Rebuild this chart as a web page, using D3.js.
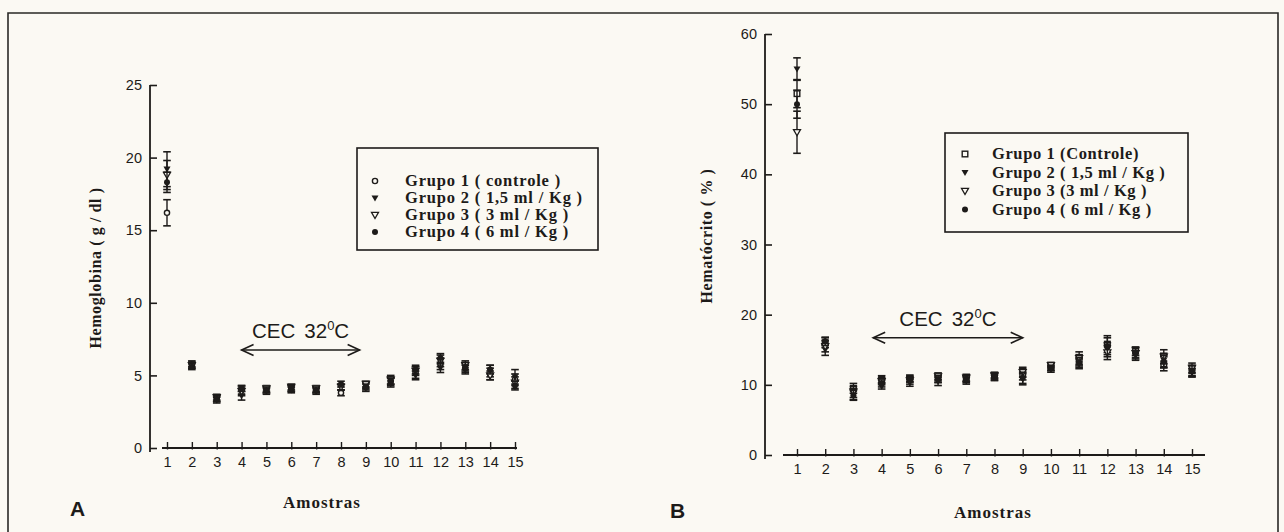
<!DOCTYPE html>
<html><head><meta charset="utf-8">
<script src="https://cdn.jsdelivr.net/npm/d3@7"></script>
<style>
html,body{margin:0;padding:0;background:#fbf9f3;}
svg{display:block;}
</style></head>
<body><svg id="c" width="1284" height="532"></svg>
<script>
// ---------- data ----------
const samples = [1,2,3,4,5,6,7,8,9,10,11,12,13,14,15];
const groupLabelsA = ["Grupo 1 ( controle )","Grupo 2 ( 1,5  ml / Kg )","Grupo 3 ( 3 ml / Kg )","Grupo 4 ( 6 ml / Kg )"];
const groupLabelsB = ["Grupo 1 (Controle)","Grupo 2 ( 1,5 ml / Kg )","Grupo 3 (3 ml / Kg )","Grupo 4 ( 6 ml / Kg )"];
const yTicksA = [0,5,10,15,20,25];
const yTicksB = [0,10,20,30,40,50,60];

// Hemoglobina (g/dl)
const hbG1 = [16.2,5.7,3.4,4.0,4.0,4.1,4.0,3.8,4.2,4.6,5.2,5.8,5.5,5.1,4.7];
const hbG1Err = [0.9,0.2,0.2,0.3,0.2,0.2,0.2,0.2,0.3,0.3,0.4,0.4,0.3,0.4,0.4];
const hbG2 = [19.2,5.8,3.3,3.6,3.9,4.0,3.9,4.2,4.3,4.5,5.0,5.5,5.4,5.3,4.9];
const hbG2Err = [1.2,0.2,0.2,0.3,0.2,0.2,0.2,0.2,0.2,0.3,0.3,0.3,0.3,0.4,0.5];
const hbG3 = [18.8,5.7,3.5,3.9,4.1,4.2,4.1,4.2,4.4,4.7,5.3,6.0,5.7,5.0,4.5];
const hbG3Err = [1.0,0.2,0.2,0.3,0.2,0.2,0.2,0.2,0.2,0.3,0.3,0.4,0.3,0.3,0.4];
const hbG4 = [18.3,5.6,3.4,4.1,4.0,4.1,4.0,4.4,4.2,4.6,5.4,6.2,5.6,5.4,4.3];
const hbG4Err = [0.7,0.2,0.2,0.2,0.2,0.2,0.2,0.2,0.2,0.2,0.3,0.3,0.3,0.3,0.3];

// Hematócrito (%)
const htG1 = [51.5,16.0,9.5,10.8,10.9,11.0,10.8,11.2,11.5,12.6,13.5,15.8,14.8,13.0,12.0];
const htG1Err = [2.0,0.7,0.7,0.5,0.5,0.6,0.5,0.5,0.8,0.5,0.8,1.2,0.6,1.0,0.8];
const htG2 = [55.0,15.0,8.7,9.8,10.3,10.5,10.6,11.0,10.8,12.2,13.0,15.0,14.2,13.5,11.7];
const htG2Err = [1.6,0.8,0.8,0.4,0.5,0.6,0.5,0.4,0.8,0.4,0.7,1.0,0.7,1.0,0.6];
const htG3 = [46.0,15.5,9.0,10.5,10.6,11.2,11.0,11.3,11.8,12.8,13.8,14.6,14.5,14.0,12.4];
const htG3Err = [3.0,0.8,0.8,0.5,0.5,0.5,0.5,0.4,0.7,0.4,0.9,1.0,0.8,1.0,0.7];
const htG4 = [50.0,16.2,8.5,10.2,10.8,10.8,10.9,11.4,11.0,12.4,13.2,15.5,14.6,13.3,12.0];
const htG4Err = [2.0,0.6,0.7,0.5,0.4,0.5,0.4,0.4,0.8,0.4,0.7,1.2,0.7,0.9,0.7];

const cecRange = [4, 8.75];
const cecRangeB = [3.7, 9.0];

// ---------- drawing ----------
const ink = "#1d1b19";
const bg = "#fbf9f3";
const svg = d3.select("#c");
svg.append("rect").attr("width",1284).attr("height",532).attr("fill",bg);

// outer frame of scanned figure
svg.append("path").attr("d","M8,540 L8,13 L1278,13 L1278,540")
  .attr("fill","none").attr("stroke","#2a2826").attr("stroke-width",1.6);

const serif = "'Liberation Serif','DejaVu Serif',serif";
const sans = "'Liberation Sans','DejaVu Sans',Arial,sans-serif";

function drawMarker(g, shape, cx, cy){
  if(shape==="circleOpen"){
    g.append("circle").attr("cx",cx).attr("cy",cy).attr("r",2.6).attr("fill",bg).attr("stroke",ink).attr("stroke-width",1.4);
  } else if(shape==="squareOpen"){
    g.append("rect").attr("x",cx-2.8).attr("y",cy-2.8).attr("width",5.6).attr("height",5.6).attr("fill",bg).attr("stroke",ink).attr("stroke-width",1.4);
  } else if(shape==="triFilled"){
    g.append("path").attr("d",`M${cx-3.5},${cy-2.6} L${cx+3.5},${cy-2.6} L${cx},${cy+3.5} Z`).attr("fill",ink);
  } else if(shape==="triOpen"){
    g.append("path").attr("d",`M${cx-3.5},${cy-2.6} L${cx+3.5},${cy-2.6} L${cx},${cy+3.5} Z`).attr("fill",bg).attr("stroke",ink).attr("stroke-width",1.3);
  } else if(shape==="circleFilled"){
    g.append("circle").attr("cx",cx).attr("cy",cy).attr("r",3).attr("fill",ink);
  }
}

function panel(cfg){
  const g = svg.append("g");
  const x = d3.scaleLinear().domain([1,15]).range(cfg.xRange);
  const y = d3.scaleLinear().domain(cfg.yDomain).range(cfg.yRange);

  // y axis
  const ya = g.append("g").attr("transform",`translate(${cfg.yAxisX},0)`)
    .call(d3.axisLeft(y).tickValues(cfg.yTicks).tickSizeInner(-7).tickSizeOuter(0).tickPadding(8));
  ya.select(".domain").attr("stroke",ink).attr("stroke-width",1.8)
    .attr("d",`M0,${y(cfg.yDomain[1])}V${y(0)+4}`);
  ya.selectAll(".tick line").attr("stroke",ink).attr("stroke-width",1.6);
  ya.selectAll(".tick text").attr("fill",ink).attr("font-family",sans).attr("font-size",14.5);

  // x axis
  const xa = g.append("g").attr("transform",`translate(0,${y(0)})`)
    .call(d3.axisBottom(x).tickValues(samples).tickSizeInner(-6).tickSizeOuter(0).tickPadding(9).tickFormat(d3.format("d")));
  xa.select(".domain").attr("stroke",ink).attr("stroke-width",1.8)
    .attr("d",`M${x(1)-cfg.xPadL},0H${x(15)+cfg.xPadR}`);
  xa.selectAll(".tick line").attr("stroke",ink).attr("stroke-width",1.4).attr("y2",-6).attr("y1",1.5);
  xa.selectAll(".tick text").attr("fill",ink).attr("font-family",sans).attr("font-size",14.5);

  // data: error bars + markers
  cfg.series.forEach((s)=>{
    const sg = g.append("g");
    samples.forEach((d,i)=>{
      const cx = x(d), v = s.values[i], e = s.err[i];
      const y1 = y(v+e), y2 = y(v-e);
      sg.append("line").attr("x1",cx).attr("x2",cx).attr("y1",y1).attr("y2",y2).attr("stroke",ink).attr("stroke-width",1.4);
      [y1,y2].forEach(yy=>sg.append("line").attr("x1",cx-3.8).attr("x2",cx+3.8).attr("y1",yy).attr("y2",yy).attr("stroke",ink).attr("stroke-width",1.6));
    });
    samples.forEach((d,i)=>drawMarker(sg, s.shape, x(d), y(s.values[i])));
  });

  // CEC arrow
  const ax1 = x(cfg.cec[0]), ax2 = x(cfg.cec[1]), ay = y(cfg.cecY);
  g.append("line").attr("x1",ax1).attr("x2",ax2).attr("y1",ay).attr("y2",ay).attr("stroke",ink).attr("stroke-width",1.6);
  g.append("path").attr("d",`M${ax1+12},${ay-5.5} L${ax1},${ay} L${ax1+12},${ay+5.5}`).attr("fill","none").attr("stroke",ink).attr("stroke-width",1.6);
  g.append("path").attr("d",`M${ax2-12},${ay-5.5} L${ax2},${ay} L${ax2-12},${ay+5.5}`).attr("fill","none").attr("stroke",ink).attr("stroke-width",1.6);
  const t = g.append("text").attr("x",(ax1+ax2)/2).attr("y",ay-12).attr("text-anchor","middle")
    .attr("font-family",sans).attr("font-size",20.5).attr("fill",ink);
  t.append("tspan").text("CEC");
  t.append("tspan").attr("dx",9).text("32");
  t.append("tspan").attr("font-size",13).attr("dy",-8).text("0");
  t.append("tspan").attr("dy",8).text("C");

  // y label
  g.append("text").attr("transform",`translate(${cfg.yLabelPos[0]},${cfg.yLabelPos[1]}) rotate(-90)`)
    .attr("text-anchor","middle").attr("font-family",serif).attr("font-weight","bold").attr("font-size",16)
    .attr("letter-spacing",cfg.yLabelLS).attr("fill",ink)
    .text(cfg.yLabel);
  // x label
  g.append("text").attr("x",cfg.xLabelPos[0]).attr("y",cfg.xLabelPos[1]).attr("text-anchor","middle")
    .attr("font-family",serif).attr("font-weight","bold").attr("font-size",17).attr("letter-spacing",1)
    .attr("fill",ink).text("Amostras");
  // panel letter
  g.append("text").attr("x",cfg.letterPos[0]).attr("y",cfg.letterPos[1])
    .attr("font-family",sans).attr("font-weight","bold").attr("font-size",21).attr("fill",ink).text(cfg.letter);

  // legend
  const L = cfg.legend;
  g.append("rect").attr("x",L.x).attr("y",L.y).attr("width",L.w).attr("height",L.h)
    .attr("fill","none").attr("stroke",ink).attr("stroke-width",1.6);
  cfg.series.forEach((s,i)=>{
    const by = L.y + L.first + i*L.step;
    drawMarker(g, s.shape, L.x + L.mx, by-5);
    g.append("text").attr("x",L.x+L.tx).attr("y",by).attr("font-family",serif).attr("font-weight","bold")
      .attr("font-size",L.fs).attr("letter-spacing",L.ls).attr("fill",ink).text(cfg.labels[i]);
  });
}

panel({
  xRange:[167,515], yDomain:[0,25], yRange:[448,85], yAxisX:150, yTicks:yTicksA, xPadL:5, xPadR:2,
  series:[
    {values:hbG1, err:hbG1Err, shape:"circleOpen"},
    {values:hbG2, err:hbG2Err, shape:"triFilled"},
    {values:hbG3, err:hbG3Err, shape:"triOpen"},
    {values:hbG4, err:hbG4Err, shape:"circleFilled"}
  ],
  labels:groupLabelsA,
  cec:cecRange, cecY:6.75,
  yLabel:"Hemoglobina ( g / dl )", yLabelPos:[101,268], yLabelLS:0.6,
  xLabelPos:[322,508], letter:"A", letterPos:[70,516],
  legend:{x:357,y:148,w:241,h:102,first:38,step:17,mx:18,tx:48,fs:16.5,ls:0.8}
});

panel({
  xRange:[797,1192], yDomain:[0,60], yRange:[455,34], yAxisX:765, yTicks:yTicksB, xPadL:14, xPadR:13,
  series:[
    {values:htG1, err:htG1Err, shape:"squareOpen"},
    {values:htG2, err:htG2Err, shape:"triFilled"},
    {values:htG3, err:htG3Err, shape:"triOpen"},
    {values:htG4, err:htG4Err, shape:"circleFilled"}
  ],
  labels:groupLabelsB,
  cec:cecRangeB, cecY:16.7,
  yLabel:"Hematócrito ( % )", yLabelPos:[712,236], yLabelLS:0.6,
  xLabelPos:[993,518], letter:"B", letterPos:[670,518],
  legend:{x:945,y:133,w:243,h:99,first:26,step:18.5,mx:20,tx:47,fs:16.5,ls:0.6}
});
</script>
</body></html>
